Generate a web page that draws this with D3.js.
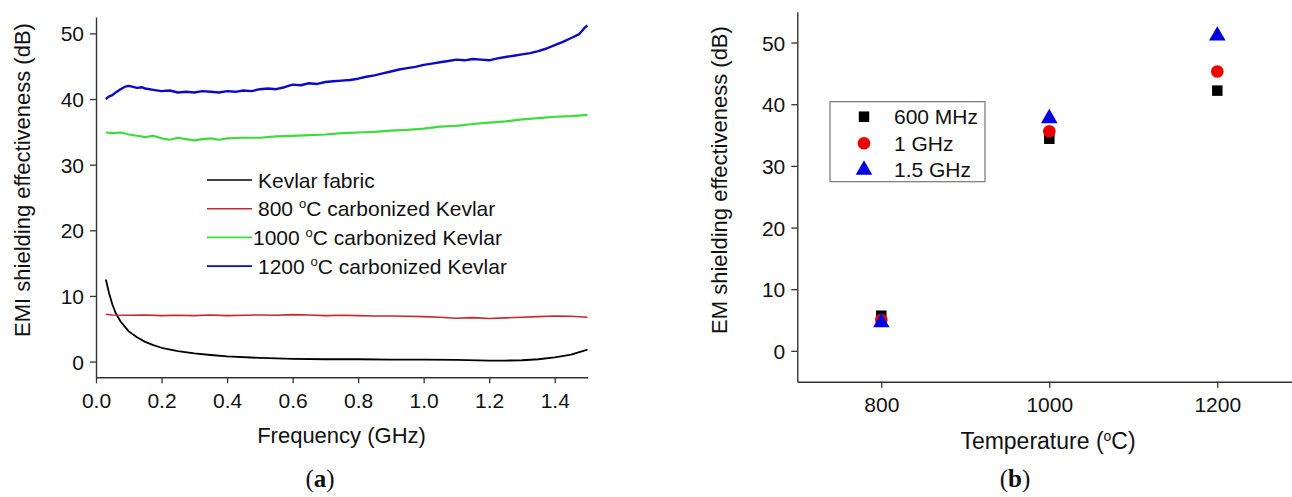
<!DOCTYPE html>
<html>
<head>
<meta charset="utf-8">
<script src="https://cdn.jsdelivr.net/npm/d3@7"></script>
<style>
  body { margin: 0; background: #fff; }
  text { font-family: "Liberation Sans", Arial, sans-serif; fill: #111; }
</style>
</head>
<body>
<script>
'use strict';

// ---- panel (a) data ----
const kevlarFreq = [0.03, 0.04, 0.05, 0.06, 0.075, 0.1, 0.125, 0.15, 0.175, 0.2, 0.25, 0.3, 0.35, 0.4, 0.5,
  0.6, 0.7, 0.8, 0.9, 1.0, 1.1, 1.2, 1.25, 1.3, 1.35, 1.4, 1.45, 1.5]
const kevlarSE = [12.5, 10.4, 8.7, 7.4, 6.1, 4.6, 3.7, 3.0, 2.5, 2.1, 1.6, 1.25, 1.0, 0.8, 0.55,
  0.4, 0.35, 0.35, 0.3, 0.3, 0.25, 0.15, 0.15, 0.2, 0.35, 0.65, 1.05, 1.8]

const c800Freq = [0.03, 0.05, 0.1, 0.15, 0.2, 0.25, 0.3, 0.35, 0.4, 0.45, 0.5, 0.55, 0.6, 0.65, 0.7, 0.75,
  0.8, 0.85, 0.9, 0.95, 1.0, 1.05, 1.1, 1.15, 1.2, 1.25, 1.3, 1.35, 1.4, 1.45, 1.5]
const c800SE = [7.2, 7.1, 7.05, 7.1, 7.0, 7.05, 7.0, 7.1, 7.0, 7.05, 7.1, 7.05, 7.15, 7.1, 7.0, 7.05,
  7.0, 6.95, 6.95, 6.9, 6.85, 6.75, 6.6, 6.7, 6.55, 6.65, 6.75, 6.85, 6.95, 6.9, 6.75]

const c1000Freq = [0.03, 0.05, 0.075, 0.1, 0.125, 0.15, 0.175, 0.2, 0.225, 0.25, 0.275, 0.3, 0.325, 0.35,
  0.375, 0.4, 0.45, 0.5, 0.55, 0.6, 0.65, 0.7, 0.75, 0.8, 0.85, 0.9, 0.95, 1.0, 1.05, 1.1, 1.15, 1.2,
  1.25, 1.3, 1.35, 1.4, 1.45, 1.5]
const c1000SE = [34.9, 34.8, 34.9, 34.6, 34.4, 34.2, 34.4, 34.0, 33.8, 34.1, 33.9, 33.7, 33.9, 34.0,
  33.8, 34.0, 34.1, 34.1, 34.3, 34.4, 34.5, 34.6, 34.8, 34.9, 35.0, 35.2, 35.3, 35.5, 35.8, 35.9, 36.2, 36.4,
  36.6, 36.9, 37.1, 37.3, 37.4, 37.6]

const c1200Freq = [0.03, 0.04, 0.05, 0.06, 0.075, 0.09, 0.1, 0.11, 0.125, 0.14, 0.15, 0.175, 0.2, 0.225,
  0.25, 0.275, 0.3, 0.325, 0.35, 0.375, 0.4, 0.425, 0.45, 0.475, 0.5, 0.525, 0.55, 0.575, 0.6, 0.625,
  0.65, 0.675, 0.7, 0.725, 0.75, 0.775, 0.8, 0.825, 0.85, 0.875, 0.9, 0.925, 0.95, 0.975, 1.0, 1.025,
  1.05, 1.075, 1.1, 1.125, 1.15, 1.175, 1.2, 1.225, 1.25, 1.275, 1.3, 1.325, 1.35, 1.375, 1.4, 1.425,
  1.45, 1.475, 1.49, 1.5]
const c1200SE = [40.0, 40.4, 40.6, 41.0, 41.5, 41.9, 42.0, 41.9, 41.7, 41.8, 41.6, 41.4, 41.2, 41.3,
  41.0, 41.1, 41.0, 41.2, 41.1, 41.0, 41.2, 41.1, 41.3, 41.2, 41.5, 41.6, 41.5, 41.8, 42.2, 42.1,
  42.4, 42.3, 42.6, 42.7, 42.8, 42.9, 43.1, 43.4, 43.6, 43.9, 44.2, 44.5, 44.7, 44.9, 45.2, 45.4,
  45.6, 45.8, 46.0, 45.9, 46.1, 46.0, 45.9, 46.2, 46.4, 46.6, 46.8, 47.0, 47.3, 47.7, 48.2, 48.7,
  49.3, 49.9, 50.8, 51.2]

const seriesNames = ['Kevlar fabric', '800', '1000', '1200']
const lineColors = ['#000000', '#c8282d', '#3cdc3c', '#0a0ac8']

const freqTicks = [0.0, 0.2, 0.4, 0.6, 0.8, 1.0, 1.2, 1.4]
const freqMinor = [0.1, 0.3, 0.5, 0.7, 0.9, 1.1, 1.3, 1.5]
const seTicksA = [0, 10, 20, 30, 40, 50]
const seMinorA = [5, 15, 25, 35, 45]

// ---- panel (b) data ----
const temps = [800, 1000, 1200]
const se600MHz = [5.7, 34.4, 42.2]
const se1GHz = [5.0, 35.6, 45.3]
const se15GHz = [4.6, 37.7, 51.1]
const pointNames = ['600 MHz', '1 GHz', '1.5 GHz']

const tempTicks = [800, 1000, 1200]
const tempMinor = [700, 900, 1100]
const seTicksB = [0, 10, 20, 30, 40, 50]
const seMinorB = [-5, 5, 15, 25, 35, 45]

const svg = d3.select('body')
  .append('svg')
  .attr('width', 1292)
  .attr('height', 497)

// draw an Origin style L-shaped axis pair
function drawAxes(xScale, yScale, xMajor, xMinor, yMajor, yMinor, xFmt, yFmt) {
  let x0 = xScale.range()[0]
  let y0 = yScale.range()[0]

  let gx = svg.append('g').attr('transform', 'translate(0,' + y0 + ')')
  gx.call(d3.axisBottom(xScale).tickValues(xMinor).tickSize(4).tickSizeOuter(0).tickFormat(''))
  gx.call(d3.axisBottom(xScale).tickValues(xMajor).tickSize(6).tickSizeOuter(0).tickFormat(xFmt))
  gx.selectAll('text').attr('y', 30.5).attr('dy', 0).style('font-size', '21px')

  let gy = svg.append('g').attr('transform', 'translate(' + x0 + ',0)')
  gy.call(d3.axisLeft(yScale).tickValues(yMinor).tickSize(4).tickSizeOuter(0).tickFormat(''))
  gy.call(d3.axisLeft(yScale).tickValues(yMajor).tickSize(6).tickSizeOuter(0).tickFormat(yFmt))
  gy.selectAll('text').attr('x', -12).attr('dy', '0.36em').style('font-size', '21px')

  svg.selectAll('.domain').attr('stroke', '#333').attr('stroke-width', 1.4)
  svg.selectAll('.tick line').attr('stroke', '#333').attr('stroke-width', 1.3)
}

// text with a superscript "o" for degrees
function degText(g, x, y, before, after, size) {
  let t = g.append('text').attr('x', x).attr('y', y).style('font-size', size + 'px')
  t.append('tspan').text(before)
  t.append('tspan').attr('dy', -size * 0.38).style('font-size', (size * 0.62) + 'px').text('o')
  t.append('tspan').attr('dy', size * 0.38).text(after)
  return t
}

/******** panel (a) ********/
let xA = d3.scaleLinear().domain([0, 1.5]).range([96, 587.5])
let yA = d3.scaleLinear().domain([-2.4, 52.5]).range([377.3, 17])

drawAxes(xA, yA, freqTicks, freqMinor, seTicksA, seMinorA, d3.format('.1f'), d3.format('d'))

let lineA = d3.line()
  .x((d) => xA(d[0]))
  .y((d) => yA(d[1]))

let curves = [
  d3.zip(kevlarFreq, kevlarSE),
  d3.zip(c800Freq, c800SE),
  d3.zip(c1000Freq, c1000SE),
  d3.zip(c1200Freq, c1200SE)
]
let widths = [1.8, 1.6, 2.2, 2.4]

svg.append('g').selectAll('path')
  .data(curves)
  .enter()
  .append('path')
    .attr('d', lineA)
    .attr('fill', 'none')
    .attr('stroke', (d, i) => lineColors[i])
    .attr('stroke-width', (d, i) => widths[i])
    .attr('stroke-linejoin', 'round')

// legend (a)
let legA = svg.append('g')
seriesNames.forEach((name, i) => {
  let ly = 180 + i * 28.7
  legA.append('line')
    .attr('x1', 207).attr('x2', 252)
    .attr('y1', ly).attr('y2', ly)
    .attr('stroke', lineColors[i])
    .attr('stroke-width', 1.6)
  if (i == 0) {
    legA.append('text').attr('x', 258).attr('y', ly + 7.5).style('font-size', '21px').text(name)
  } else {
    degText(legA, i == 2 ? 253 : 258, ly + 7.5, name + ' ', 'C carbonized Kevlar', 21)
  }
})

svg.append('text')
  .attr('x', 341.5).attr('y', 443)
  .attr('text-anchor', 'middle')
  .style('font-size', '22px')
  .text('Frequency (GHz)')

svg.append('text')
  .attr('transform', 'translate(29.5,180)rotate(-90)')
  .attr('text-anchor', 'middle')
  .style('font-size', '22px')
  .text('EMI shielding effectiveness (dB)')

/******** panel (b) ********/
let xB = d3.scaleLinear().domain([700, 1300]).range([797.3, 1301.3])
let yB = d3.scaleLinear().domain([-5, 55]).range([381.7, 11.7])

drawAxes(xB, yB, tempTicks, tempMinor, seTicksB, seMinorB, d3.format('d'), d3.format('d'))

let pointSets = [se600MHz, se1GHz, se15GHz]
let symbols = [d3.symbolSquare, d3.symbolCircle, d3.symbolTriangle]
let symSizes = [110, 125, 120]
let symColors = ['#000000', '#ee0000', '#0000e0']

pointSets.forEach((vals, k) => {
  svg.append('g').selectAll('path')
    .data(d3.zip(temps, vals))
    .enter()
    .append('path')
      .attr('transform', (d) => 'translate(' + xB(d[0]) + ',' + yB(d[1]) + ')')
      .attr('d', d3.symbol().type(symbols[k]).size(symSizes[k]))
      .attr('fill', symColors[k])
})

// legend (b)
let legB = svg.append('g')
legB.append('rect')
  .attr('x', 830).attr('y', 101.7)
  .attr('width', 155).attr('height', 80)
  .attr('fill', '#fff')
  .attr('stroke', '#777')
  .attr('stroke-width', 1.2)
pointNames.forEach((name, k) => {
  let ly = 116.7 + k * 26.6
  legB.append('path')
    .attr('transform', 'translate(864,' + ly + ')')
    .attr('d', d3.symbol().type(symbols[k]).size(symSizes[k]))
    .attr('fill', symColors[k])
  legB.append('text')
    .attr('x', 894).attr('y', ly + 7.5)
    .style('font-size', '21px')
    .text(name)
})

let tLabel = svg.append('text')
  .attr('x', 1048).attr('y', 448.5)
  .attr('text-anchor', 'middle')
  .style('font-size', '23px')
tLabel.append('tspan').text('Temperature (')
tLabel.append('tspan').attr('dy', -8).style('font-size', '14px').text('o')
tLabel.append('tspan').attr('dy', 8).text('C)')

svg.append('text')
  .attr('transform', 'translate(727,180)rotate(-90)')
  .attr('text-anchor', 'middle')
  .style('font-size', '22px')
  .text('EM shielding effectiveness (dB)')

// captions
function caption(x, letter) {
  let t = svg.append('text')
    .attr('x', x).attr('y', 487)
    .attr('text-anchor', 'middle')
    .style('font-family', '"Liberation Serif", "Times New Roman", serif')
    .style('font-size', '25px')
  t.append('tspan').text('(')
  t.append('tspan').style('font-weight', 'bold').text(letter)
  t.append('tspan').text(')')
}
caption(320, 'a')
caption(1015, 'b')
</script>
</body>
</html>
